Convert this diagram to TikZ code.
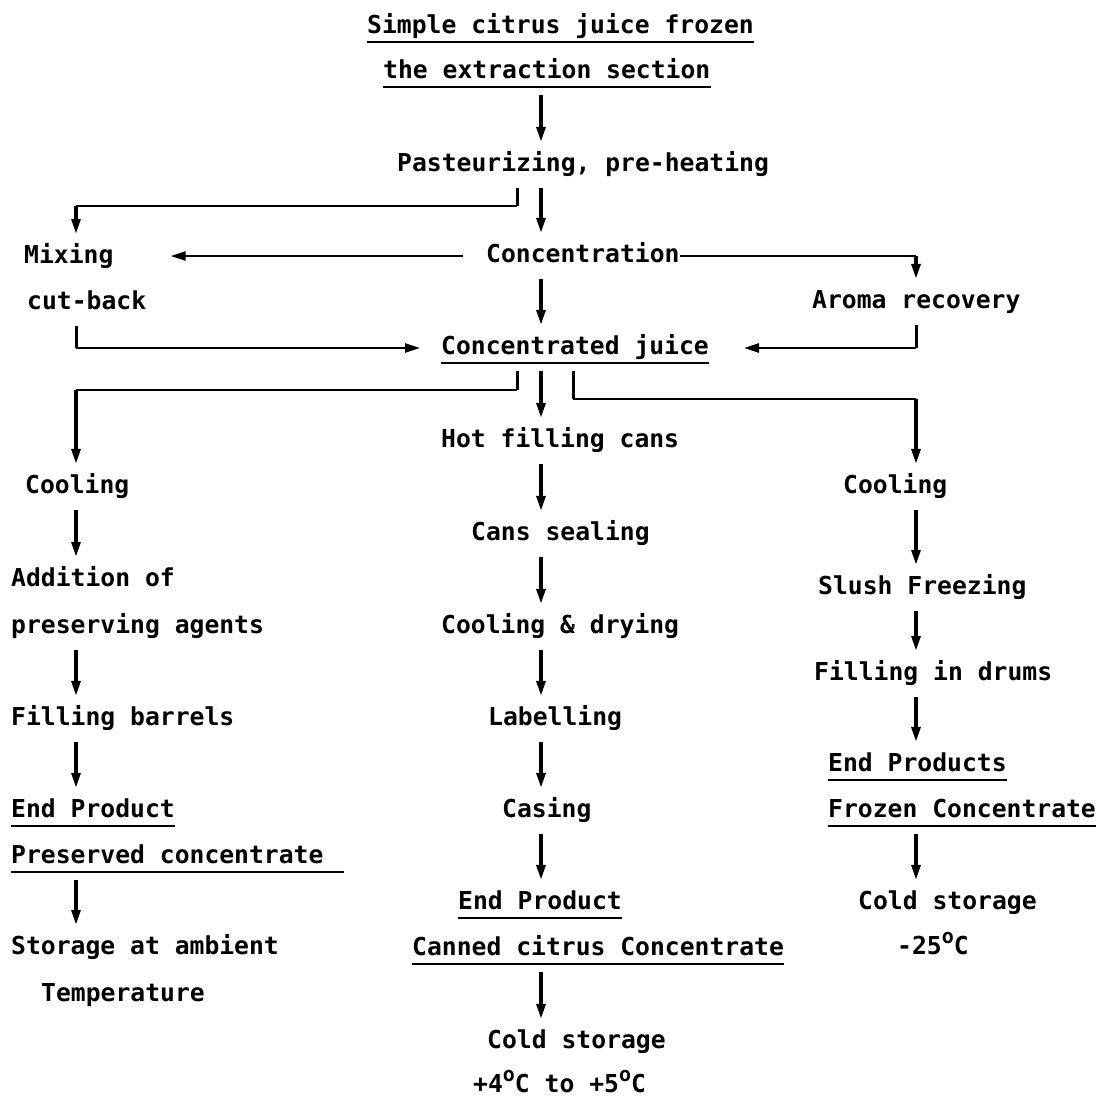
\documentclass[tikz,border=0pt]{standalone}
\usepackage{fontspec}
\setmonofont{DejaVu Sans Mono}
\usetikzlibrary{arrows.meta}
\newcommand{\degC}{\raisebox{0.42em}{\fontsize{20}{20}\selectfont o}C}
\begin{document}
\begin{tikzpicture}[x=1pt,y=-1pt,
  lbl/.style={anchor=base west,inner xsep=0pt,inner ysep=12pt,
    text height=17pt,text depth=5pt,
    font=\fontsize{24.7}{28}\selectfont\ttfamily\bfseries},
  arr/.style={line width=3.2pt,-{Triangle[length=15pt,width=9pt]}},
  harr/.style={line width=2.4pt,-{Triangle[length=15pt,width=9pt]}},
  link/.style={line width=2.4pt},
  vlink/.style={line width=3pt},
  uline/.style={line width=2.4pt}]
\useasboundingbox (0,0) rectangle (1105,1100);

% text nodes (x = left edge, y = baseline)
\node[lbl] (t1) at (367,33) {Simple citrus juice frozen};
\node[lbl] (t2) at (383,78) {the extraction section};
\node[lbl] (past) at (397,171) {Pasteurizing, pre-heating};
\node[lbl] (mix) at (24,263) {Mixing};
\node[lbl] (conc) at (486,262) {Concentration};
\node[lbl] (cut) at (27,309) {cut-back};
\node[lbl] (aroma) at (812,308) {Aroma recovery};
\node[lbl] (cj) at (441,354) {Concentrated juice};
\node[lbl] (hot) at (441,447) {Hot filling cans};
\node[lbl] (coolL) at (25,493) {Cooling};
\node[lbl] (coolR) at (843,493) {Cooling};
\node[lbl] (seal) at (471,540) {Cans sealing};
\node[lbl] (add) at (11,586) {Addition of};
\node[lbl] (pres) at (11,633) {preserving agents};
\node[lbl] (slush) at (818,594) {Slush Freezing};
\node[lbl] (cd) at (441,633) {Cooling \& drying};
\node[lbl] (fd) at (814,680) {Filling in drums};
\node[lbl] (fb) at (11,725) {Filling barrels};
\node[lbl] (lab) at (488,725) {Labelling};
\node[lbl] (epR) at (828,771) {End Products};
\node[lbl] (epL) at (11,817) {End Product};
\node[lbl] (casing) at (502,817) {Casing};
\node[lbl] (fc) at (828,817) {Frozen Concentrate};
\node[lbl] (pc) at (11,863) {Preserved concentrate};
\node[lbl] (epC) at (458,909) {End Product};
\node[lbl] (csR) at (858,909) {Cold storage};
\node[lbl] (store) at (11,954) {Storage at ambient};
\node[lbl] (ccc) at (412,955) {Canned citrus Concentrate};
\node[lbl] (m25) at (897,954) {-25\degC};
\node[lbl] (temp) at (41,1001) {Temperature};
\node[lbl] (csC) at (487,1048) {Cold storage};
\node[lbl] (t45) at (473,1092) {+4\degC{} to +5\degC};

% underlines
\foreach \n in {t1,t2,cj,epR,fc,epL,epC,ccc}
  \draw[uline] ([yshift=-9pt]\n.base west) -- ([yshift=-9pt]\n.base east);
\draw[uline] ([yshift=-9pt]pc.base west) -- ([xshift=20pt,yshift=-9pt]pc.base east);

% columns and junction levels
\coordinate (cx) at (541,0);
\coordinate (lx) at (76,0);
\coordinate (rx) at (916,0);
\coordinate (lb) at (517,0);
\coordinate (rb) at (573,0);
\coordinate (j1) at (0,206);
\coordinate (j2) at (0,390);
\coordinate (j3) at (0,399);

% main line
\draw[arr] (t2.south -| cx) -- (past.north -| cx);
\draw[arr] (past.south -| cx) -- (conc.north -| cx);
\draw[arr] (conc.south -| cx) -- (cj.north -| cx);
\draw[arr] (cj.south -| cx) -- (hot.north -| cx);
\draw[arr] (hot.south -| cx) -- (seal.north -| cx);
\draw[arr] (seal.south -| cx) -- (cd.north -| cx);
\draw[arr] (cd.south -| cx) -- (lab.north -| cx);
\draw[arr] (lab.south -| cx) -- (casing.north -| cx);
\draw[arr] (casing.south -| cx) -- (epC.north -| cx);
\draw[arr] (ccc.south -| cx) -- (csC.north -| cx);

% cut-back branch
\draw[vlink] (past.south -| lb) -- (j1 -| lb);
\draw[link] (j1 -| lb) -- (j1 -| lx);
\draw[arr] (j1 -| lx) -- (mix.north -| lx);
\draw[harr,shorten <=23pt,shorten >=57pt] (conc.west) -- (conc.west -| mix.east);
\draw[vlink] (cut.south -| lx) -- (cj.west -| lx);
\draw[harr,shorten >=21pt] (cj.west -| lx) -- (cj.west);

% aroma branch
\draw[link] (conc.east) -- (conc.east -| rx);
\draw[arr] (conc.east -| rx) -- (aroma.north -| rx);
\draw[vlink] (aroma.south -| rx) -- (cj.east -| rx);
\draw[harr,shorten >=35pt] (cj.east -| rx) -- (cj.east);

% preserved concentrate line
\draw[vlink] (cj.south -| lb) -- (j2 -| lb);
\draw[link] (j2 -| lb) -- (j2 -| lx);
\draw[arr] (j2 -| lx) -- (coolL.north -| lx);
\draw[arr] (coolL.south -| lx) -- (add.north -| lx);
\draw[arr] (pres.south -| lx) -- (fb.north -| lx);
\draw[arr] (fb.south -| lx) -- (epL.north -| lx);
\draw[arr] (pc.south -| lx) -- (store.north -| lx);

% frozen concentrate line
\draw[vlink] (cj.south -| rb) -- (j3 -| rb);
\draw[link] (j3 -| rb) -- (j3 -| rx);
\draw[arr] (j3 -| rx) -- (coolR.north -| rx);
\draw[arr] (coolR.south -| rx) -- (slush.north -| rx);
\draw[arr] (slush.south -| rx) -- (fd.north -| rx);
\draw[arr] (fd.south -| rx) -- (epR.north -| rx);
\draw[arr] (fc.south -| rx) -- (csR.north -| rx);
\end{tikzpicture}
\end{document}
